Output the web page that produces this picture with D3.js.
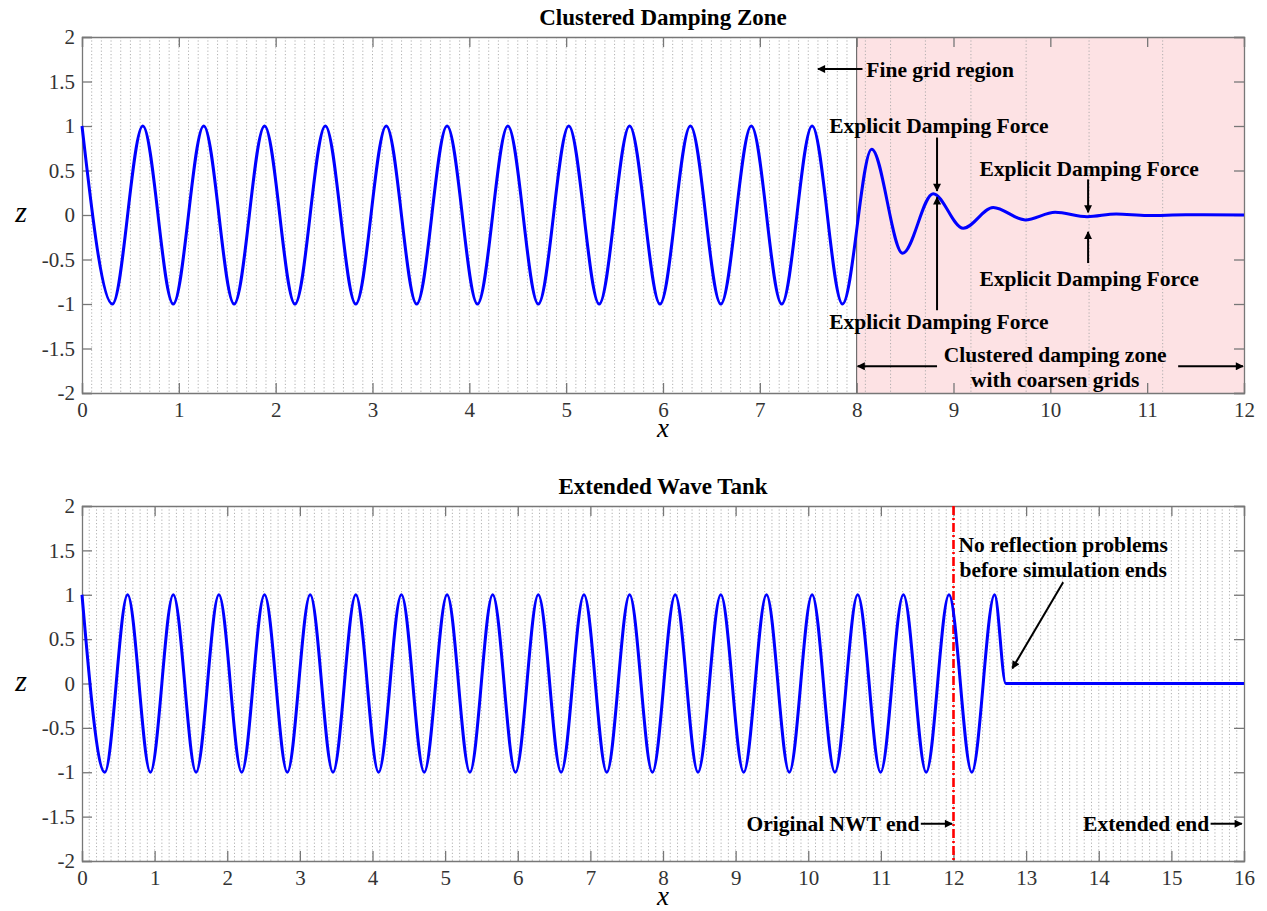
<!DOCTYPE html>
<html>
<head>
<meta charset="utf-8">
<script src="https://cdn.jsdelivr.net/npm/d3@7"></script>
<style>
  body { margin: 0; background: #fff; }
  svg text { font-family: "Liberation Serif", "Times New Roman", serif; }
</style>
</head>
<body>
<div id="plot"></div>
<script>
// ---- data ----
// top panel: wave crests/troughs, then the damped tail
const topX = [0, 0.314, 0.628, 0.942, 1.257, 1.571, 1.885, 2.199, 2.513, 2.827,
  3.142, 3.456, 3.770, 4.084, 4.398, 4.712, 5.027, 5.341, 5.655, 5.969,
  6.283, 6.597, 6.912, 7.226, 7.540, 7.854,
  8.155, 8.475, 8.79, 9.10, 9.41, 9.74, 10.05, 10.38, 10.68, 11.0, 11.4, 12];
const topZ = [1, -1, 1, -1, 1, -1, 1, -1, 1, -1,
  1, -1, 1, -1, 1, -1, 1, -1, 1, -1,
  1, -1, 1, -1, 1, -1,
  0.74, -0.43, 0.24, -0.15, 0.085, -0.055, 0.03, -0.02, 0.012, -0.006, 0.003, 0];

// bottom panel: same wave, front stops at ~12.72, then still water
const botX = [0, 0.314, 0.628, 0.942, 1.257, 1.571, 1.885, 2.199, 2.513, 2.827,
  3.142, 3.456, 3.770, 4.084, 4.398, 4.712, 5.027, 5.341, 5.655, 5.969,
  6.283, 6.597, 6.912, 7.226, 7.540, 7.854, 8.168, 8.482, 8.796, 9.111,
  9.425, 9.739, 10.053, 10.367, 10.681, 10.996, 11.310, 11.624, 11.938, 12.252,
  12.566, 12.72, 16];
const botZ = [1, -1, 1, -1, 1, -1, 1, -1, 1, -1,
  1, -1, 1, -1, 1, -1, 1, -1, 1, -1,
  1, -1, 1, -1, 1, -1, 1, -1, 1, -1,
  1, -1, 1, -1, 1, -1, 1, -1, 1, -1,
  1, 0, 0];

// coarse grid lines inside the damping zone
const coarseGrid = [8.09, 8.35, 8.71, 9.18, 9.75, 10.40, 11.16];

const yTicks = [-2, -1.5, -1, -0.5, 0, 0.5, 1, 1.5, 2];
const topXTicks = d3.range(0, 13);
const botXTicks = d3.range(0, 17);

const serif = "'Liberation Serif', 'Times New Roman', serif";
const W = 1267, H = 911;
const svg = d3.select("#plot").append("svg")
  .attr("width", W).attr("height", H)
  .attr("font-family", serif);

const defs = svg.append("defs");
defs.append("marker")
  .attr("id", "arrow")
  .attr("viewBox", "0 0 10 10")
  .attr("refX", 9).attr("refY", 5)
  .attr("markerWidth", 10).attr("markerHeight", 8)
  .attr("markerUnits", "userSpaceOnUse")
  .attr("orient", "auto")
  .append("path").attr("d", "M0,0 L10,5 L0,10 z").attr("fill", "#000");

function panel(o) {
  const x = d3.scaleLinear().domain(o.xDomain).range([o.left, o.right]);
  const y = d3.scaleLinear().domain([-2, 2]).range([o.bottom, o.top]);
  const g = svg.append("g");

  // shaded zone
  if (o.zone) {
    g.append("rect")
      .attr("x", x(o.zone[0])).attr("y", o.top)
      .attr("width", x(o.zone[1]) - x(o.zone[0]))
      .attr("height", o.bottom - o.top)
      .attr("fill", "#fde2e4");
    g.append("line")
      .attr("x1", x(o.zone[0])).attr("x2", x(o.zone[0]))
      .attr("y1", o.top).attr("y2", o.bottom)
      .attr("stroke", "#555").attr("stroke-width", 1);
  }

  // dotted grid
  g.selectAll(".grid").data(o.grid).join("line")
    .attr("x1", d => x(d)).attr("x2", d => x(d))
    .attr("y1", o.top).attr("y2", o.bottom)
    .attr("stroke", "#a8a8a8").attr("stroke-width", 0.9)
    .attr("stroke-dasharray", "1.2,2.2");

  // axes (box with inward ticks)
  const tick = 10;
  const axes = [
    g.append("g").attr("transform", `translate(0,${o.bottom})`)
      .call(d3.axisBottom(x).tickValues(o.xTicks).tickSize(-tick).tickPadding(9).tickFormat(d => String(d))),
    g.append("g").attr("transform", `translate(0,${o.top})`)
      .call(d3.axisTop(x).tickValues(o.xTicks).tickSize(-tick).tickFormat("")),
    g.append("g").attr("transform", `translate(${o.left},0)`)
      .call(d3.axisLeft(y).tickValues(yTicks).tickSize(-tick).tickPadding(7).tickFormat(d => String(d))),
    g.append("g").attr("transform", `translate(${o.right},0)`)
      .call(d3.axisRight(y).tickValues(yTicks).tickSize(-tick).tickFormat(""))
  ];
  axes.forEach(a => a.attr("font-family", serif).attr("font-size", 21));
  g.selectAll(".domain").attr("stroke", "#777").attr("stroke-width", 1.3);
  g.selectAll(".tick line").attr("stroke", "#777").attr("stroke-width", 1.3);
  g.selectAll(".tick text")
    .style("font-family", serif)
    .attr("font-size", 21).attr("fill", "#333");

  // red end line
  if (o.redLine !== undefined) {
    g.append("line")
      .attr("x1", x(o.redLine)).attr("x2", x(o.redLine))
      .attr("y1", o.top).attr("y2", o.bottom)
      .attr("stroke", "#ff0000").attr("stroke-width", 2.6)
      .attr("stroke-dasharray", "9,3,2,3");
  }

  // wave
  const line = d3.line()
    .x(d => x(d[0])).y(d => y(d[1]))
    .curve(d3.curveMonotoneX);
  g.append("path")
    .datum(d3.zip(o.xs, o.zs))
    .attr("d", line)
    .attr("fill", "none")
    .attr("stroke", "#0000ff")
    .attr("stroke-width", 3);

  // title and axis labels
  g.append("text")
    .attr("x", (o.left + o.right) / 2).attr("y", o.top - 12)
    .attr("text-anchor", "middle")
    .attr("font-weight", "bold").attr("font-size", 23)
    .text(o.title);
  g.append("text")
    .attr("x", (o.left + o.right) / 2).attr("y", o.bottom + 44)
    .attr("text-anchor", "middle")
    .attr("font-style", "italic").attr("font-size", 27)
    .text("x");
  g.append("text")
    .attr("x", 21).attr("y", y(0) + 7)
    .attr("text-anchor", "middle")
    .attr("font-style", "italic").attr("font-size", 30)
    .text("z");

  // annotations
  o.notes.forEach(n => {
    const t = g.append("text")
      .attr("x", x(n.x)).attr("y", y(n.z))
      .attr("text-anchor", n.anchor || "middle")
      .attr("font-weight", "bold").attr("font-size", 21.5);
    if (Array.isArray(n.text)) {
      n.text.forEach((s, i) => t.append("tspan")
        .attr("x", x(n.x)).attr("dy", i ? 25 : 0).text(s));
    } else {
      t.text(n.text);
    }
  });
  o.arrows.forEach(a => {
    g.append("line")
      .attr("x1", x(a[0])).attr("y1", y(a[1]))
      .attr("x2", x(a[2])).attr("y2", y(a[3]))
      .attr("stroke", "#000").attr("stroke-width", 2)
      .attr("marker-end", "url(#arrow)");
  });
}

panel({
  left: 82, right: 1244, top: 37, bottom: 393,
  xDomain: [0, 12], xTicks: topXTicks,
  xs: topX, zs: topZ,
  grid: d3.range(1, 80).map(i => i / 10).concat(coarseGrid),
  zone: [8, 12],
  title: "Clustered Damping Zone",
  notes: [
    { x: 8.10, z: 1.55, text: "Fine grid region", anchor: "start" },
    { x: 8.85, z: 0.92, text: "Explicit Damping Force" },
    { x: 10.40, z: 0.44, text: "Explicit Damping Force" },
    { x: 10.40, z: -0.80, text: "Explicit Damping Force" },
    { x: 8.85, z: -1.28, text: "Explicit Damping Force" },
    { x: 10.05, z: -1.65, text: ["Clustered damping zone", "with coarsen grids"] }
  ],
  arrows: [
    [8.06, 1.64, 7.60, 1.64],
    [8.83, 0.87, 8.83, 0.27],
    [10.39, 0.40, 10.39, 0.03],
    [10.39, -0.54, 10.39, -0.19],
    [8.83, -1.07, 8.83, 0.20],
    [8.83, -1.70, 8.01, -1.70],
    [11.32, -1.70, 11.99, -1.70]
  ]
});

panel({
  left: 82, right: 1244, top: 506, bottom: 861,
  xDomain: [0, 16], xTicks: botXTicks,
  xs: botX, zs: botZ,
  grid: d3.range(1, 160).map(i => i / 10),
  redLine: 12,
  title: "Extended Wave Tank",
  notes: [
    { x: 13.51, z: 1.48, text: ["No reflection problems", "before simulation ends"] },
    { x: 11.53, z: -1.66, text: "Original NWT end", anchor: "end" },
    { x: 15.52, z: -1.66, text: "Extended end", anchor: "end" }
  ],
  arrows: [
    [13.51, 1.14, 12.81, 0.17],
    [11.55, -1.58, 11.98, -1.58],
    [15.54, -1.58, 15.97, -1.58]
  ]
});
</script>
</body>
</html>
